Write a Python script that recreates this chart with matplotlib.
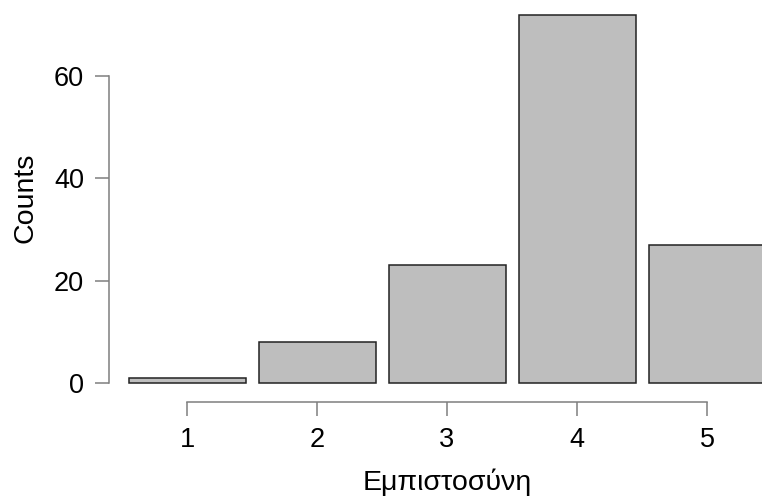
import matplotlib
matplotlib.use("Agg")
import matplotlib.pyplot as plt

# Response counts per trust level
levels = [1, 2, 3, 4, 5]
counts = [1, 8, 23, 72, 27]
y_ticks = [0, 20, 40, 60]

plt.rcParams['font.family'] = ['Liberation Sans', 'DejaVu Sans']

W, H = 762, 501
fig = plt.figure(figsize=(W / 100, H / 100), dpi=100)

left_px, bottom_px = 109, 401.7
ax = fig.add_axes([left_px / W, (H - bottom_px) / H, (W - left_px) / W, bottom_px / H])

ax.bar(levels, counts, width=0.9, color="#bebebe", edgecolor="#222222", linewidth=1.1)

ax.set_xlim(0.4, 5.423)
ax.set_ylim(-3.65, 74.85)

for side in ("top", "right"):
    ax.spines[side].set_visible(False)
for side in ("left", "bottom"):
    ax.spines[side].set_color("#7f7f7f")
    ax.spines[side].set_linewidth(1.1)
ax.spines["left"].set_bounds(0, 60)
ax.spines["bottom"].set_bounds(1, 5)

ax.set_xticks(levels)
ax.set_yticks(y_ticks)
ax.tick_params(axis="both", length=10, width=1.1, color="#7f7f7f", labelsize=19.5)
ax.tick_params(axis="y", pad=8)
ax.tick_params(axis="x", pad=8)

fig.text(25 / W, 1 - 198 / H, "Counts", rotation=90, ha="center", va="center", fontsize=20.5)
fig.text(447 / W, 1 - 482 / H, "Εμπιστοσύνη", ha="center", va="center", fontsize=20.5)

fig.savefig("out.png", dpi=100)
